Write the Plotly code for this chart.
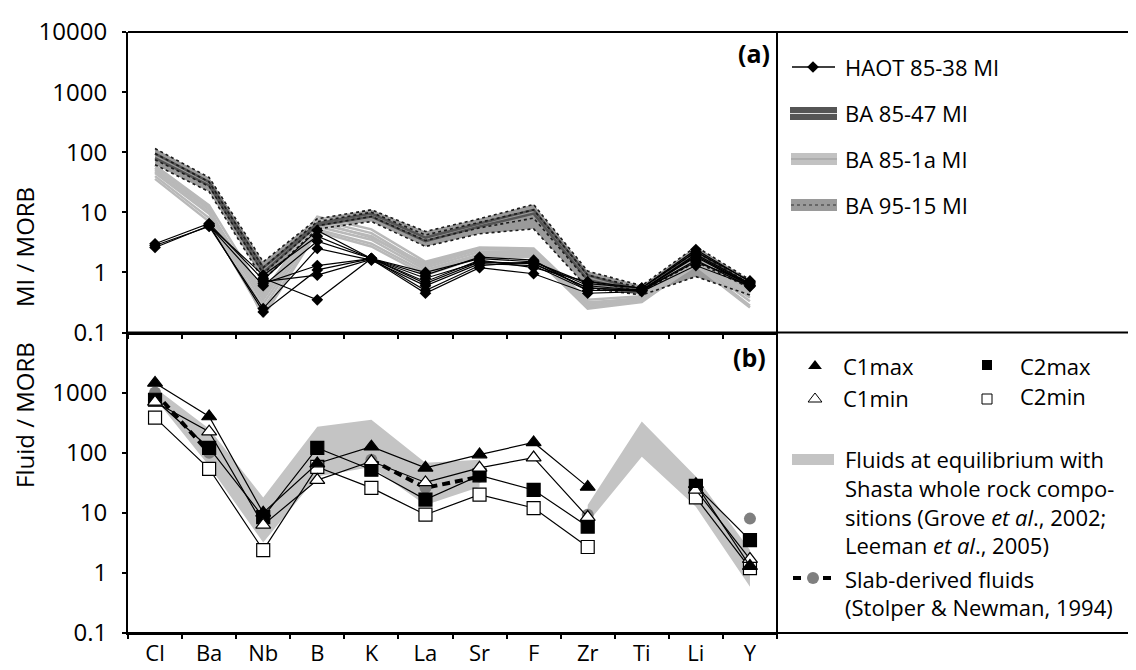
import plotly.graph_objects as go
from plotly.subplots import make_subplots

ELEMENTS = ["Cl", "Ba", "Nb", "B", "K", "La", "Sr", "F", "Zr", "Ti", "Li", "Y"]

# ---- panel (a): melt inclusions / MORB ----
HAOT_85_38 = [
    [3.0, 6.5, 0.75, 5.0, 1.7, 1.0, 1.7, 1.5, 0.65, 0.55, 2.4, 0.70],
    [2.6, 6.0, 0.60, 3.3, 1.7, 0.8, 1.5, 1.4, 0.55, 0.50, 2.0, 0.65],
    [2.8, 5.8, 0.25, 2.5, 1.6, 0.6, 1.4, 1.3, 0.50, 0.52, 1.8, 0.60],
    [None, 6.2, 0.22, 1.1, 1.7, 0.5, 1.3, 1.5, 0.60, 0.50, 1.5, 0.68],
    [None, None, 0.70, 0.9, 1.65, 0.45, 1.2, 0.95, 0.45, 0.48, 1.3, 0.60],
    [None, None, 0.80, 0.35, 1.7, 0.7, 1.6, 1.2, 0.70, 0.55, 2.2, 0.72],
    [None, None, 0.65, 1.3, 1.7, 0.9, 1.8, 1.6, 0.50, 0.50, 1.6, 0.58],
    [None, 6.0, 0.90, 4.0, 1.7, 0.65, 1.5, 1.4, 0.55, 0.50, 1.9, 0.62],
]
BA_85_47 = [
    [95, 32, 1.2, 6.5, 9.5, 3.8, 6.5, 11, 0.90, 0.50, 2.3, 0.60],
    [80, 28, 1.0, 6.0, 8.5, 3.3, 5.8, 9.5, 0.75, 0.48, 2.0, 0.55],
]
BA_85_1A = [
    [60, 13, 0.45, 8.5, 5.2, 1.5, 2.6, 2.5, 0.35, 0.40, 2.0, 0.50],
    [52, 11, 0.35, 7.5, 4.5, 1.3, 2.4, 2.4, 0.30, 0.38, 1.8, 0.45],
    [45, 9.5, 0.30, 6.5, 4.0, 1.2, 2.2, 2.2, 0.28, 0.35, 1.6, 0.38],
    [40, 8, 0.25, 5.8, 3.5, 1.1, 2.0, 2.0, 0.26, 0.33, 1.5, 0.33],
    [36, 7, 0.20, 5.2, 3.0, 1.0, 1.9, 1.9, 0.25, 0.32, 1.4, 0.28],
    [55, 12, 0.18, 4.8, 2.7, 0.9, 1.8, 1.8, 0.27, 0.34, 1.3, 0.26],
    [48, 10, 0.40, 7.0, 3.8, 1.4, 2.5, 2.3, 0.32, 0.36, 1.7, 0.42],
]
BA_95_15 = [
    [115, 38, 1.5, 7.8, 11, 4.8, 7.8, 13.5, 1.05, 0.60, 2.7, 0.75],
    [95, 32, 1.2, 7.0, 10, 4.2, 6.8, 11, 0.90, 0.55, 2.2, 0.65],
    [75, 27, 0.95, 6.0, 8.5, 3.4, 5.5, 8, 0.72, 0.48, 1.5, 0.55],
    [62, 22, 0.75, 5.3, 7.0, 2.7, 4.4, 5.3, 0.55, 0.42, 0.85, 0.42],
]

# ---- panel (b): fluids / MORB ----
C1MAX = [1450, 400, 10, 66, 126, 56, 93, 148, 27, None, 30, 1.3]
C1MIN = [700, 224, 6.3, 35, 72, 32, 56, 83, 8.5, None, 24, 1.7]
C2MAX = [760, 120, 8.5, 120, 52, 16.6, 42, 24, 5.9, None, 28, 3.5]
C2MIN = [383, 54, 2.4, 58, 26, 9.3, 20, 12, 2.7, None, 18, 1.2]
SLAB = [1000, 100, None, None, 76, 26, 40, None, 9.3, None, None, 8]
EQ_UPPER = [1200, 250, 18, 270, 355, 68, 76, None, 13.5, 330, 40, 2.4]
EQ_LOWER = [800, 60, 3.2, 40, 58, 13.5, 27, None, 6.8, 86, 12.6, 0.59]

FONT = "Open Sans"
PAGE_PAD = 8  # browser body margin pushes the figure right/down
XEND = (777 - 128) / 1008  # right edge of the plot frame in paper units

fig = make_subplots(rows=2, cols=1, shared_xaxes=True, vertical_spacing=0)


def band(upper, lower):
    """closed polygons for each run of non-missing values"""
    xs, ys = [], []
    run = []
    for i in range(len(ELEMENTS) + 1):
        if i < len(ELEMENTS) and upper[i] is not None:
            run.append(i)
            continue
        if run:
            xs += [ELEMENTS[j] for j in run] + [ELEMENTS[j] for j in run[::-1]] + [None]
            ys += [upper[j] for j in run] + [lower[j] for j in run[::-1]] + [None]
        run = []
    return xs, ys


# panel a
up95 = [max(v) for v in zip(*BA_95_15)]
lo95 = [min(v) for v in zip(*BA_95_15)]
bx, by = band(up95, lo95)
fig.add_trace(go.Scatter(x=bx, y=by, fill="toself", fillcolor="#9a9a9a",
                         line=dict(width=0), mode="lines"), row=1, col=1)
for ys in BA_85_1A:
    fig.add_trace(go.Scatter(x=ELEMENTS, y=ys, mode="lines",
                             line=dict(color="#b9b9b9", width=2.5)), row=1, col=1)
for ys in BA_85_47:
    fig.add_trace(go.Scatter(x=ELEMENTS, y=ys, mode="lines",
                             line=dict(color="#555", width=2.5)), row=1, col=1)
for ys in BA_95_15:
    fig.add_trace(go.Scatter(x=ELEMENTS, y=ys, mode="lines",
                             line=dict(color="#1a1a1a", width=1.6, dash="3px,3px")), row=1, col=1)
for ys in HAOT_85_38:
    fig.add_trace(go.Scatter(x=ELEMENTS, y=ys, mode="lines+markers",
                             line=dict(color="black", width=1.2),
                             marker=dict(symbol="diamond", size=9, color="black")), row=1, col=1)

# panel b
bx, by = band(EQ_UPPER, EQ_LOWER)
fig.add_trace(go.Scatter(x=bx, y=by, fill="toself", fillcolor="#c4c4c4",
                         line=dict(width=0), mode="lines"), row=2, col=1)
fig.add_trace(go.Scatter(x=ELEMENTS, y=SLAB, mode="lines+markers",
                         line=dict(color="black", width=4, dash="8px,5px"),
                         marker=dict(symbol="circle", size=12, color="#7f7f7f")), row=2, col=1)
for ys, sym, fc in [(C2MIN, "square", "white"), (C2MAX, "square", "black"),
                    (C1MIN, "triangle-up", "white"), (C1MAX, "triangle-up", "black")]:
    fig.add_trace(go.Scatter(x=ELEMENTS, y=ys, mode="lines+markers",
                             line=dict(color="black", width=1.2),
                             marker=dict(symbol=sym, size=13, color=fc,
                                         line=dict(color="black", width=1.2))), row=2, col=1)

fig.update_traces(showlegend=False, hoverinfo="skip")

# ---- legend panel drawn on an invisible pixel-scaled axis ----
LX = dict(xaxis="x3", yaxis="y3", showlegend=False, hoverinfo="skip")
fig.add_trace(go.Scatter(x=[792, 835], y=[67, 67], mode="lines",
                         line=dict(color="black", width=1.5), **LX))
fig.add_trace(go.Scatter(x=[813], y=[67], mode="markers",
                         marker=dict(symbol="diamond", size=9, color="black"), **LX))
fig.add_trace(go.Scatter(x=[815], y=[366], mode="markers",
                         marker=dict(symbol="triangle-up", size=12, color="black"), **LX))
fig.add_trace(go.Scatter(x=[815], y=[399], mode="markers",
                         marker=dict(symbol="triangle-up-open", size=12, color="black",
                                     line=dict(width=1)), **LX))
fig.add_trace(go.Scatter(x=[987], y=[365], mode="markers",
                         marker=dict(symbol="square", size=10, color="black"), **LX))
fig.add_trace(go.Scatter(x=[987], y=[399], mode="markers",
                         marker=dict(symbol="square-open", size=10, color="black",
                                     line=dict(width=1)), **LX))
fig.add_trace(go.Scatter(x=[793, 834], y=[578, 578], mode="lines",
                         line=dict(color="black", width=4, dash="8px,7px"), **LX))
fig.add_trace(go.Scatter(x=[813], y=[578], mode="markers",
                         marker=dict(symbol="circle", size=12, color="#7f7f7f"), **LX))

shapes = [
    # frame lines crossing the whole figure
    dict(type="line", xref="paper", yref="paper", x0=0, x1=1, y0=1, y1=1,
         line=dict(color="black", width=2)),
    dict(type="line", xref="paper", yref="paper", x0=0, x1=1, y0=0.5, y1=0.5,
         line=dict(color="black", width=2)),
    dict(type="line", xref="paper", yref="paper", x0=0, x1=1, y0=0, y1=0,
         line=dict(color="black", width=2)),
    dict(type="line", xref="paper", yref="paper", x0=XEND, x1=XEND, y0=-0.007, y1=1,
         line=dict(color="black", width=2)),
    # legend keys
    dict(type="rect", xref="x3", yref="y3", x0=790, x1=837, y0=107, y1=120,
         fillcolor="#555", line=dict(width=0)),
    dict(type="line", xref="x3", yref="y3", x0=790, x1=837, y0=113.5, y1=113.5,
         line=dict(color="#ddd", width=1)),
    dict(type="rect", xref="x3", yref="y3", x0=791, x1=837, y0=153, y1=165,
         fillcolor="#c2c2c2", line=dict(width=0)),
    dict(type="line", xref="x3", yref="y3", x0=791, x1=837, y0=159, y1=159,
         line=dict(color="#999", width=1)),
    dict(type="rect", xref="x3", yref="y3", x0=791, x1=837, y0=199, y1=211,
         fillcolor="#9a9a9a", line=dict(width=0)),
    dict(type="line", xref="x3", yref="y3", x0=791, x1=837, y0=205, y1=205,
         line=dict(color="#333", width=1, dash="3px,3px")),
    dict(type="rect", xref="x3", yref="y3", x0=792, x1=834, y0=454, y1=465,
         fillcolor="#c4c4c4", line=dict(width=0)),
]

TXT = dict(color="black", size=22, family=FONT)
legend_text = [
    (843, 67, "HAOT 85-38 MI"), (843, 113, "BA 85-47 MI"),
    (843, 159, "BA 85-1a MI"), (843, 205, "BA 95-15 MI"),
    (841, 366, "C1max"), (841, 398, "C1min"),
    (1018, 366, "C2max"), (1018, 396, "C2min"),
    (843, 459, "Fluids at equilibrium with"),
    (843, 488, "Shasta whole rock compo-"),
    (843, 517, "sitions (Grove <i>et al</i>., 2002;"),
    (843, 545, "Leeman <i>et al</i>., 2005)"),
    (843, 579, "Slab-derived fluids"),
    (843, 607, "(Stolper &amp; Newman, 1994)"),
]
annotations = [
    dict(x=x, y=y, xref="x3", yref="y3", text=t, showarrow=False,
         xanchor="left", yanchor="middle", font=TXT)
    for x, y, t in legend_text
]
annotations += [
    dict(x=XEND - 0.005, y=(633 - 53) / 601, xref="paper", yref="paper", text="<b>(a)</b>",
         showarrow=False, xanchor="right", yanchor="middle",
         font=dict(color="black", size=25, family=FONT)),
    dict(x=XEND - 0.009, y=(633 - 357) / 601, xref="paper", yref="paper", text="<b>(b)</b>",
         showarrow=False, xanchor="right", yanchor="middle",
         font=dict(color="black", size=25, family=FONT)),
    dict(x=(24 - 128) / 1008, y=(633 - 185) / 601, xref="paper", yref="paper",
         text="MI / MORB", textangle=-90, showarrow=False, xanchor="center",
         font=dict(color="black", size=24, family=FONT)),
    dict(x=(24 - 128) / 1008, y=(633 - 490) / 601, xref="paper", yref="paper",
         text="Fluid / MORB", textangle=-90, showarrow=False, xanchor="center",
         font=dict(color="black", size=24, family=FONT)),
]

yax = dict(type="log", range=[-1, 4], showgrid=False, zeroline=False, automargin=False,
           showline=True, linecolor="black", linewidth=2,
           ticks="outside", ticklen=4, tickwidth=1.5, tickcolor="black",
           ticklabelstandoff=10, tickfont=dict(size=24, family=FONT, color="black"))
xax = dict(type="category", categoryorder="array", categoryarray=ELEMENTS,
           range=[-0.5, 11.5], domain=[0, XEND], tickson="boundaries", automargin=False,
           showgrid=False, zeroline=False, showline=True, linecolor="black", linewidth=2,
           ticks="outside", ticklen=4, tickwidth=1.5, tickcolor="black",
           ticklabelstandoff=0, tickfont=dict(size=22, family=FONT, color="black"))

fig.update_layout(
    width=1136 - PAGE_PAD, height=670 - PAGE_PAD,
    margin=dict(l=128 - PAGE_PAD, r=0, t=32 - PAGE_PAD, b=37),
    plot_bgcolor="white", paper_bgcolor="white",
    font=dict(family=FONT, color="black"),
    xaxis=dict(xax, showticklabels=False),
    xaxis2=dict(xax),
    yaxis=dict(yax, domain=[0.5, 1], tickvals=[0.1, 1, 10, 100, 1000, 10000],
               ticktext=["0.1", "1", "10", "100", "1000", "10000"]),
    yaxis2=dict(yax, domain=[0, 0.5], tickvals=[0.1, 1, 10, 100, 1000, 10000],
                ticktext=["0.1", "1", "10", "100", "1000", ""]),
    xaxis3=dict(domain=[XEND, 1], range=[777, 1136], visible=False, anchor="y3"),
    yaxis3=dict(domain=[0, 1], range=[633, 32], visible=False, anchor="x3"),
    shapes=shapes,
    annotations=annotations,
)

fig.write_html("out.html")
